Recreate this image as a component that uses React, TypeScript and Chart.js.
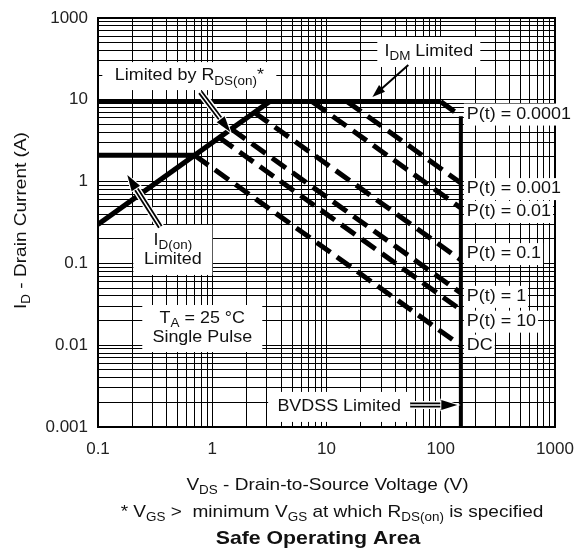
import React, { useEffect, useRef } from "react";
import { Chart, registerables } from "chart.js";

Chart.register(...registerables);

const FONT = '"Liberation Sans", Arial, Helvetica, sans-serif';

// ---- axes ----
const xTickValues = [0.1, 1, 10, 100, 1000];
const xTickLabels = ["0.1", "1", "10", "100", "1000"];
const yTickValues = [0.001, 0.01, 0.1, 1, 10, 100];
const yTickLabels = ["0.001", "0.01", "0.1", "1", "10", "1000"];
const gridSteps = [1, 2, 3, 4, 5, 6, 7, 8, 9];

// ---- limit boundaries (V, A) ----
const rdsLimitV = [0.1, 3.17];
const rdsLimitI = [0.3, 9.5];
const idOnV = [0.1, 0.7];
const idOnI = [2.1, 2.1];
const idmV = [0.1, 100];
const idmI = [9.5, 9.5];
const bvdssV = [150, 150];
const bvdssI = [6.3, 0.001];

// ---- pulse power lines ----
const pulseNames = ["P(t) = 0.0001", "P(t) = 0.001", "P(t) = 0.01", "P(t) = 0.1", "P(t) = 1", "P(t) = 10", "DC"];
const pulseStartV = [100, 15.2, 7.5, 2.34, 1.47, 1.15, 0.7];
const pulseStartI = [9.5, 9.5, 9.5, 7.0, 4.4, 3.46, 2.1];
const pulseEndV = [150, 150, 150, 150, 150, 150, 150];
const pulseEndI = [6.3, 0.96, 0.475, 0.11, 0.0435, 0.027, 0.0099];
const pulseLabelI = [6.6, 0.81, 0.425, 0.13, 0.039, 0.0194, 0.00986];

type Part = [string, number?];

// annotation boxes, anchored at data coordinates (centre)
const noteBoxes: { v: number; i: number; w: number; h: number; lines: Part[][] }[] = [
  { v: 0.63, i: 19.5, w: 174, h: 28, lines: [[["Limited by R"], ["DS(on)", 1], ["*"]]] },
  { v: 78.6, i: 38.4, w: 103, h: 30, lines: [[["I"], ["DM", 1], [" Limited"]]] },
  { v: 0.452, i: 0.146, w: 79, h: 50, lines: [[["I"], ["D(on)", 1]], [["Limited"]]] },
  { v: 0.818, i: 0.016, w: 120, h: 47, lines: [[["T"], ["A", 1], [" = 25 °C"]], [["Single Pulse"]]] },
  { v: 12.9, i: 0.00176, w: 142, h: 30, lines: [[["BVDSS Limited"]]] },
];

const arrows: { from: [number, number]; to: [number, number]; double: boolean }[] = [
  { from: [0.786, 12.4], to: [1.44, 4.04], double: true },
  { from: [52, 26.6], to: [25.2, 10.8], double: false },
  { from: [0.351, 0.279], to: [0.1805, 1.204], double: true },
  { from: [54, 0.00186], to: [139.6, 0.00186], double: true },
];

function gridValues(ticks: number[]) {
  const out: number[] = [];
  ticks.slice(0, -1).forEach((d) => gridSteps.forEach((k) => out.push(+(d * k).toPrecision(6))));
  out.push(ticks[ticks.length - 1]);
  return out;
}
const xGrid = gridValues(xTickValues);
const yGrid = gridValues(yTickValues);

function labelFor(v: number, values: number[], labels: string[]) {
  const idx = values.findIndex((t) => Math.abs(Math.log10(t) - Math.log10(v)) < 1e-6);
  return idx >= 0 ? labels[idx] : "";
}

function fontStr(size: number, bold?: boolean) {
  return `${bold ? "bold " : ""}${size}px ${FONT}`;
}

function richWidth(ctx: CanvasRenderingContext2D, parts: Part[], size: number, bold?: boolean) {
  let w = 0;
  for (const [t, sub] of parts) {
    ctx.font = fontStr(sub ? Math.round(size * 0.72) : size, bold);
    w += ctx.measureText(t).width;
  }
  return w;
}

function drawRich(
  ctx: CanvasRenderingContext2D,
  parts: Part[],
  x: number,
  y: number,
  o: { size: number; bold?: boolean; sx?: number; align?: "left" | "center" }
) {
  const sx = o.sx ?? 1.12;
  const w = richWidth(ctx, parts, o.size, o.bold) * sx;
  const x0 = o.align === "center" ? x - w / 2 : x;
  ctx.save();
  ctx.translate(x0, y);
  ctx.scale(sx, 1);
  ctx.textBaseline = "middle";
  ctx.textAlign = "left";
  ctx.fillStyle = "#111";
  let cx = 0;
  for (const [t, sub] of parts) {
    ctx.font = fontStr(sub ? Math.round(o.size * 0.72) : o.size, o.bold);
    ctx.fillText(t, cx, sub ? o.size * 0.32 : 0);
    cx += ctx.measureText(t).width;
  }
  ctx.restore();
  return w;
}

function strokeLine(ctx: CanvasRenderingContext2D, x1: number, y1: number, x2: number, y2: number, color: string, w: number) {
  ctx.beginPath();
  ctx.moveTo(x1, y1);
  ctx.lineTo(x2, y2);
  ctx.strokeStyle = color;
  ctx.lineWidth = w;
  ctx.stroke();
}

function drawArrow(ctx: CanvasRenderingContext2D, x1: number, y1: number, x2: number, y2: number, dbl: boolean) {
  const ang = Math.atan2(y2 - y1, x2 - x1);
  const hl = dbl ? 16 : 13;
  const hw = dbl ? 5 : 4.5;
  const c = Math.cos(ang), s = Math.sin(ang);
  const bx = x2 - hl * c, by = y2 - hl * s;
  ctx.save();
  ctx.lineCap = "butt";
  if (dbl) {
    strokeLine(ctx, x1, y1, bx + c, by + s, "#fff", 8);
    strokeLine(ctx, x1, y1, bx + c, by + s, "#000", 5);
    strokeLine(ctx, x1, y1, bx + c, by + s, "#fff", 1.5);
  } else {
    strokeLine(ctx, x1, y1, bx + c, by + s, "#000", 2);
  }
  ctx.beginPath();
  ctx.moveTo(x2, y2);
  ctx.lineTo(bx + hw * s, by - hw * c);
  ctx.lineTo(bx - hw * s, by + hw * c);
  ctx.closePath();
  if (dbl) {
    ctx.strokeStyle = "#fff";
    ctx.lineWidth = 2;
    ctx.stroke();
  }
  ctx.fillStyle = "#000";
  ctx.fill();
  ctx.restore();
}

const overlay = {
  id: "overlay",
  beforeDatasetsDraw(chart: any) {
    const { ctx, chartArea: a } = chart;
    ctx.save();
    ctx.strokeStyle = "#000";
    ctx.lineWidth = 2;
    ctx.strokeRect(a.left, a.top, a.right - a.left, a.bottom - a.top);
    ctx.restore();
  },
  afterDatasetsDraw(chart: any) {
    const ctx: CanvasRenderingContext2D = chart.ctx;
    const xs = chart.scales.x, ys = chart.scales.y;
    for (const n of noteBoxes) {
      const cx = xs.getPixelForValue(n.v), cy = ys.getPixelForValue(n.i);
      ctx.fillStyle = "#fff";
      ctx.fillRect(cx - n.w / 2, cy - n.h / 2, n.w, n.h);
      const lh = 19;
      n.lines.forEach((ln, k) =>
        drawRich(ctx, ln, cx, cy + (k - (n.lines.length - 1) / 2) * lh, { size: 16, align: "center" })
      );
    }
    pulseNames.forEach((name, k) => {
      const x = xs.getPixelForValue(pulseEndV[k]) + 6;
      const y = ys.getPixelForValue(pulseLabelI[k]);
      const w = richWidth(ctx, [[name]], 16) * 1.12;
      ctx.fillStyle = "#fff";
      ctx.fillRect(x - 3, y - 11, w + 5, 22);
      drawRich(ctx, [[name]], x, y, { size: 16, align: "left" });
    });
    for (const ar of arrows) {
      drawArrow(
        ctx,
        xs.getPixelForValue(ar.from[0]),
        ys.getPixelForValue(ar.from[1]),
        xs.getPixelForValue(ar.to[0]),
        ys.getPixelForValue(ar.to[1]),
        ar.double
      );
    }
  },
  afterDraw(chart: any) {
    const ctx: CanvasRenderingContext2D = chart.ctx;
    const a = chart.chartArea;
    ctx.save();
    ctx.translate(21, (a.top + a.bottom) / 2 - 2);
    ctx.rotate(-Math.PI / 2);
    drawRich(ctx, [["I"], ["D", 1], [" - Drain Current (A)"]], 0, 0, { size: 17, align: "center" });
    ctx.restore();
    drawRich(ctx, [["V"], ["DS", 1], [" - Drain-to-Source Voltage (V)"]], (a.left + a.right) / 2 + 1, 485, {
      size: 17,
      align: "center",
    });
    drawRich(
      ctx,
      [["* V"], ["GS", 1], [" >  minimum V"], ["GS", 1], [" at which R"], ["DS(on)", 1], [" is specified"]],
      332,
      512,
      { size: 17, align: "center" }
    );
    drawRich(ctx, [["Safe Operating Area"]], 318, 539, { size: 19, bold: true, align: "center" });
  },
};

function lineSet(V: number[], I: number[], width: number, dash: number[] = []) {
  return {
    data: V.map((v, k) => ({ x: v, y: I[k] })),
    showLine: true,
    borderColor: "#000",
    backgroundColor: "#000",
    borderWidth: width,
    borderDash: dash,
    borderCapStyle: "butt",
    borderJoinStyle: "miter",
    pointRadius: 0,
    fill: false,
    tension: 0,
  };
}

export default function App() {
  const ref = useRef<HTMLCanvasElement>(null);
  useEffect(() => {
    const datasets: any[] = [
      lineSet(rdsLimitV, rdsLimitI, 5),
      lineSet(idOnV, idOnI, 5),
      lineSet(idmV, idmI, 5),
      lineSet(bvdssV, bvdssI, 4),
      ...pulseNames.map((_, k) =>
        lineSet([pulseStartV[k], pulseEndV[k]], [pulseStartI[k], pulseEndI[k]], 5, [17, 8])
      ),
    ];
    const chart = new Chart(ref.current as HTMLCanvasElement, {
      type: "scatter",
      data: { datasets },
      options: {
        responsive: false,
        devicePixelRatio: 1,
        animation: false,
        events: [],
        layout: { padding: { top: 18, right: 19, left: 0, bottom: 0 } },
        plugins: { legend: { display: false }, tooltip: { enabled: false }, title: { display: false } },
        scales: {
          x: {
            type: "logarithmic",
            position: "bottom",
            min: 0.1,
            max: 1000,
            afterBuildTicks: (s: any) => {
              s.ticks = xGrid.map((v) => ({ value: v }));
            },
            afterFit: (s: any) => {
              s.height = 123;
              s.paddingLeft = 0;
              s.paddingRight = 0;
            },
            grid: { color: "#000", lineWidth: 1, drawTicks: false },
            border: { display: false },
            ticks: {
              autoSkip: false,
              maxRotation: 0,
              minRotation: 0,
              padding: 12,
              color: "#222",
              font: { family: FONT, size: 17 },
              callback: (v: any) => labelFor(Number(v), xTickValues, xTickLabels),
            },
          },
          y: {
            type: "logarithmic",
            position: "left",
            min: 0.001,
            max: 100,
            afterBuildTicks: (s: any) => {
              s.ticks = yGrid.map((v) => ({ value: v }));
            },
            afterFit: (s: any) => {
              s.width = 98;
              s.paddingTop = 0;
              s.paddingBottom = 0;
            },
            grid: { color: "#000", lineWidth: 1, drawTicks: false },
            border: { display: false },
            ticks: {
              autoSkip: false,
              padding: 10,
              color: "#222",
              font: { family: FONT, size: 17 },
              callback: (v: any) => labelFor(Number(v), yTickValues, yTickLabels),
            },
          },
        },
      } as any,
      plugins: [overlay as any],
    });
    return () => chart.destroy();
  }, []);
  return (
    <div style={{ position: "absolute", left: 0, top: 0, width: 574, height: 550, background: "#fff" }}>
      <canvas ref={ref} width={574} height={550} style={{ display: "block", width: 574, height: 550 }} />
    </div>
  );
}
